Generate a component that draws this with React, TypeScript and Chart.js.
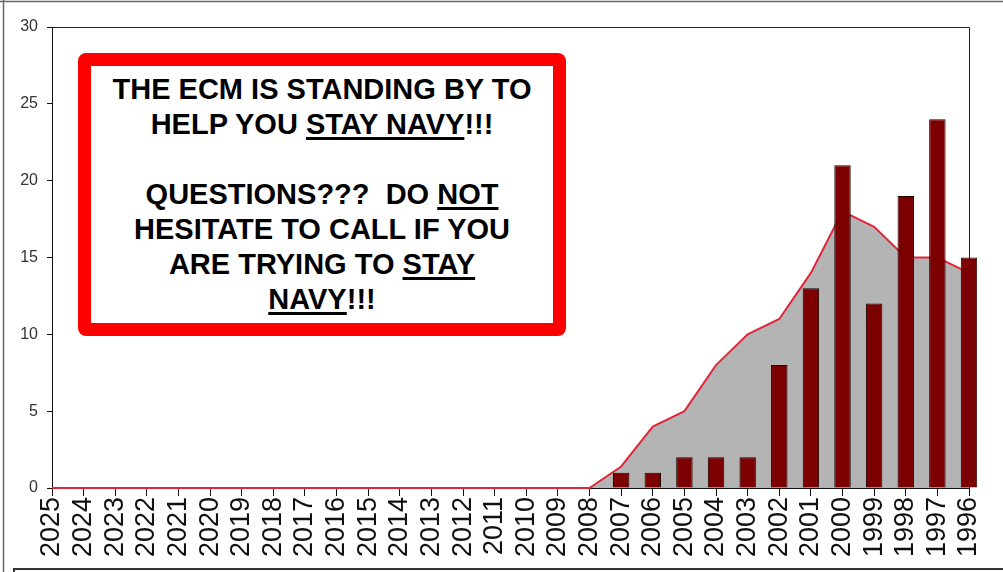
import React, { useEffect, useRef } from "react";
import { Chart, registerables } from "chart.js";

Chart.register(...registerables);

const categories: string[] = [
  "2025", "2024", "2023", "2022", "2021", "2020", "2019", "2018", "2017", "2016",
  "2015", "2014", "2013", "2012", "2011", "2010", "2009", "2008", "2007", "2006",
  "2005", "2004", "2003", "2002", "2001", "2000", "1999", "1998", "1997", "1996",
];

const barValues: (number | null)[] = [
  null, null, null, null, null, null, null, null, null, null,
  null, null, null, null, null, null, null, null, 1, 1,
  2, 2, 2, 8, 13, 21, 12, 19, 24, 15,
];

const trendValues: number[] = [
  0, 0, 0, 0, 0, 0, 0, 0, 0, 0,
  0, 0, 0, 0, 0, 0, 0, 0, 1.4, 4,
  5, 8, 10, 11, 14, 18, 17, 15, 15, 14,
];

const yTicks = { min: 0, max: 30, step: 5 };

const framePlugin = {
  id: "framePlugin",
  beforeDraw(chart: any) {
    const ctx = chart.ctx;
    ctx.save();
    ctx.fillStyle = "#ffffff";
    ctx.fillRect(0, 0, chart.width, chart.height);
    ctx.strokeStyle = "#666";
    ctx.lineWidth = 1.5;
    ctx.beginPath();
    ctx.moveTo(3.5, 0);
    ctx.lineTo(3.5, chart.height);
    ctx.moveTo(0, 1.5);
    ctx.lineTo(chart.width, 1.5);
    ctx.stroke();
    ctx.strokeStyle = "#333";
    ctx.lineWidth = 2;
    ctx.beginPath();
    ctx.moveTo(14, chart.height);
    ctx.lineTo(14, 569);
    ctx.lineTo(chart.width, 569);
    ctx.stroke();
    ctx.restore();
  },
  afterDatasetsDraw(chart: any) {
    const { left, right, top, bottom } = chart.chartArea;
    const ctx = chart.ctx;
    ctx.save();
    ctx.strokeStyle = "#222";
    ctx.lineWidth = 1;
    ctx.beginPath();
    ctx.moveTo(left, top + 0.5);
    ctx.lineTo(right + 0.5, top + 0.5);
    ctx.lineTo(right + 0.5, bottom);
    ctx.stroke();
    ctx.restore();
  },
};

export default function App() {
  const ref = useRef<HTMLCanvasElement | null>(null);

  useEffect(() => {
    document.body.style.margin = "0";
    if (!ref.current) return;
    const chart = new Chart(ref.current, {
      type: "bar",
      data: {
        labels: categories,
        datasets: [
          {
            type: "bar",
            data: barValues,
            backgroundColor: "#7d0000",
            borderColor: "#1a0000",
            borderWidth: 1,
            barPercentage: 0.52,
            categoryPercentage: 1,
            order: 1,
            clip: false as any,
          } as any,
          {
            type: "line",
            data: trendValues,
            borderColor: "#e0283c",
            backgroundColor: "#b4b4b4",
            borderWidth: 2,
            fill: "origin",
            tension: 0,
            pointRadius: 0,
            order: 2,
            clip: false as any,
          } as any,
        ],
      },
      options: {
        animation: false,
        responsive: false,
        maintainAspectRatio: false,
        layout: { padding: { left: 0, top: 27, right: 34, bottom: 0 } },
        plugins: { legend: { display: false }, tooltip: { enabled: false } },
        scales: {
          x: {
            type: "category",
            offset: false,
            grid: { display: true, offset: false, drawOnChartArea: false, drawTicks: true, tickLength: 8, color: "#111" },
            border: { display: true, color: "#111", width: 1 },
            ticks: {
              autoSkip: false,
              maxRotation: 90,
              minRotation: 90,
              padding: 1,
              color: "#111",
              font: { family: "'Liberation Sans', Arial, sans-serif", size: 27 },
            },
            afterFit(scale: any) {
              scale.height = 84;
              scale.paddingLeft = 0;
              scale.paddingRight = 0;
            },
          },
          y: {
            min: yTicks.min,
            max: yTicks.max,
            grid: { display: true, drawOnChartArea: false, drawTicks: true, tickLength: 5, color: "#111" },
            border: { display: true, color: "#111", width: 1 },
            ticks: {
              stepSize: yTicks.step,
              padding: 9,
              color: "#333",
              font: { family: "'Liberation Sans', Arial, sans-serif", size: 16 },
            },
            afterFit(scale: any) {
              scale.width = 52;
              scale.paddingTop = 0;
              scale.paddingBottom = 0;
            },
          },
        },
      },
      plugins: [framePlugin],
    });
    return () => chart.destroy();
  }, []);

  const u: React.CSSProperties = {
    textDecoration: "underline",
    textDecorationThickness: "3px",
    textUnderlineOffset: "3px",
  };

  return (
    <div style={{ position: "fixed", left: 0, top: 0, width: 1003, height: 572, overflow: "hidden" }}>
      <canvas ref={ref} width={1003} height={572} style={{ display: "block" }} />
      <div
        style={{
          position: "absolute",
          left: 78,
          top: 53,
          width: 488,
          height: 283,
          boxSizing: "border-box",
          border: "13px solid #ff0000",
          borderRadius: 8,
          background: "#ffffff",
          paddingTop: 6,
          textAlign: "center",
          fontFamily: "'Liberation Sans', Arial, sans-serif",
          fontWeight: "bold",
          fontSize: 29,
          lineHeight: "35px",
          color: "#000",
          whiteSpace: "pre",
        }}
      >
        <div>THE ECM IS STANDING BY TO</div>
        <div>HELP YOU <span style={u}>STAY NAVY</span>!!!</div>
        <div>{" "}</div>
        <div>QUESTIONS???  DO <span style={u}>NOT</span></div>
        <div>HESITATE TO CALL IF YOU</div>
        <div>ARE TRYING TO <span style={u}>STAY</span></div>
        <div><span style={u}>NAVY</span>!!!</div>
      </div>
    </div>
  );
}
